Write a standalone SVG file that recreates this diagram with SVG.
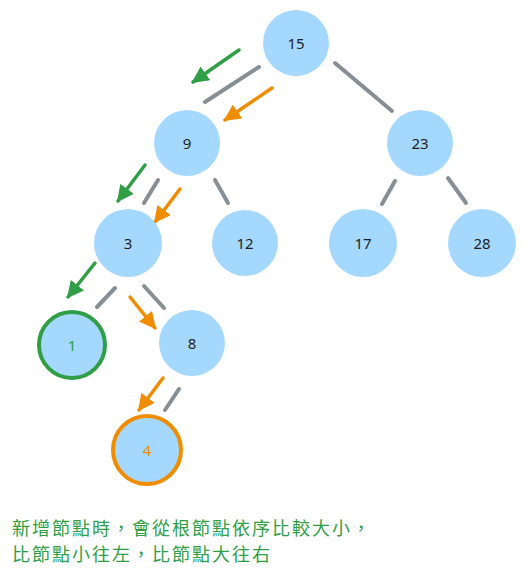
<svg xmlns="http://www.w3.org/2000/svg" width="525" height="577" viewBox="0 0 525 577">
<style>
.n{fill:#a5d8ff;stroke:none}
.lbl{font-family:"Noto Sans","DejaVu Sans",sans-serif;font-size:15px;fill:#1e1e1e;text-anchor:middle;dominant-baseline:central}
.e{stroke:#868e96;stroke-width:4;stroke-linecap:round;fill:none}
.ag{stroke:#2f9e44;stroke-width:3.5;stroke-linecap:round;fill:none}
.ao{stroke:#f08c00;stroke-width:3.5;stroke-linecap:round;fill:none}
.cap{font-family:"Noto Sans CJK TC","Noto Sans CJK SC",sans-serif;font-size:18px;fill:#2f9e44;letter-spacing:2px}
</style>
<defs>
<marker id="mg" viewBox="0 0 10 10" refX="9" refY="5" markerWidth="4.8" markerHeight="4.8" markerUnits="strokeWidth" orient="auto">
<path d="M0,0 L10,5 L0,10 Z" fill="#2f9e44"/>
</marker>
<marker id="mo" viewBox="0 0 10 10" refX="9" refY="5" markerWidth="4.8" markerHeight="4.8" markerUnits="strokeWidth" orient="auto">
<path d="M0,0 L10,5 L0,10 Z" fill="#f08c00"/>
</marker>
</defs>
<g id="connectors">
<line class="e" x1="259" y1="67" x2="205" y2="102"/>
<line class="e" x1="335" y1="63" x2="392" y2="111"/>
<line class="e" x1="158" y1="180" x2="144" y2="203"/>
<line class="e" x1="215" y1="180" x2="228" y2="203"/>
<line class="e" x1="115" y1="288" x2="97" y2="307"/>
<line class="e" x1="144" y1="286" x2="164" y2="308"/>
<line class="e" x1="179" y1="389" x2="165" y2="410"/>
<line class="e" x1="395" y1="181" x2="382" y2="204"/>
<line class="e" x1="448" y1="178" x2="466" y2="203"/>
<line class="ag" x1="239" y1="50" x2="193" y2="82" marker-end="url(#mg)"/>
<line class="ag" x1="145" y1="165" x2="118" y2="201" marker-end="url(#mg)"/>
<line class="ag" x1="95" y1="263" x2="68" y2="297" marker-end="url(#mg)"/>
<line class="ao" x1="272" y1="88" x2="225" y2="120" marker-end="url(#mo)"/>
<line class="ao" x1="180" y1="189" x2="155" y2="222" marker-end="url(#mo)"/>
<line class="ao" x1="130" y1="297" x2="155" y2="328" marker-end="url(#mo)"/>
<line class="ao" x1="163" y1="378" x2="139" y2="410" marker-end="url(#mo)"/>
</g>
<g id="n15"><circle class="n" cx="296" cy="43" r="33"/><text class="lbl" x="296" y="43">15</text></g>
<g id="n9"><circle class="n" cx="187" cy="143" r="33"/><text class="lbl" x="187" y="143">9</text></g>
<g id="n23"><circle class="n" cx="420" cy="143" r="33"/><text class="lbl" x="420" y="143">23</text></g>
<g id="n3"><circle class="n" cx="128" cy="243" r="34"/><text class="lbl" x="128" y="243">3</text></g>
<g id="n12"><circle class="n" cx="245" cy="243" r="33"/><text class="lbl" x="245" y="243">12</text></g>
<g id="n17"><circle class="n" cx="363" cy="243" r="34"/><text class="lbl" x="363" y="243">17</text></g>
<g id="n28"><circle class="n" cx="482" cy="243" r="34"/><text class="lbl" x="482" y="243">28</text></g>
<g id="n1"><circle class="n" cx="72" cy="345" r="33" style="stroke:#2f9e44;stroke-width:4"/><text class="lbl" x="72" y="345" style="fill:#2f9e44">1</text></g>
<g id="n8"><circle class="n" cx="192" cy="343" r="33"/><text class="lbl" x="192" y="343">8</text></g>
<g id="n4"><circle class="n" cx="147" cy="450" r="34" style="stroke:#f08c00;stroke-width:4"/><text class="lbl" x="147" y="450" style="fill:#f08c00">4</text></g>
<g id="caption">
<text class="cap" x="12" y="535">新增節點時，會從根節點依序比較大小，</text>
<text class="cap" x="12" y="561">比節點小往左，比節點大往右</text>
</g>
</svg>
